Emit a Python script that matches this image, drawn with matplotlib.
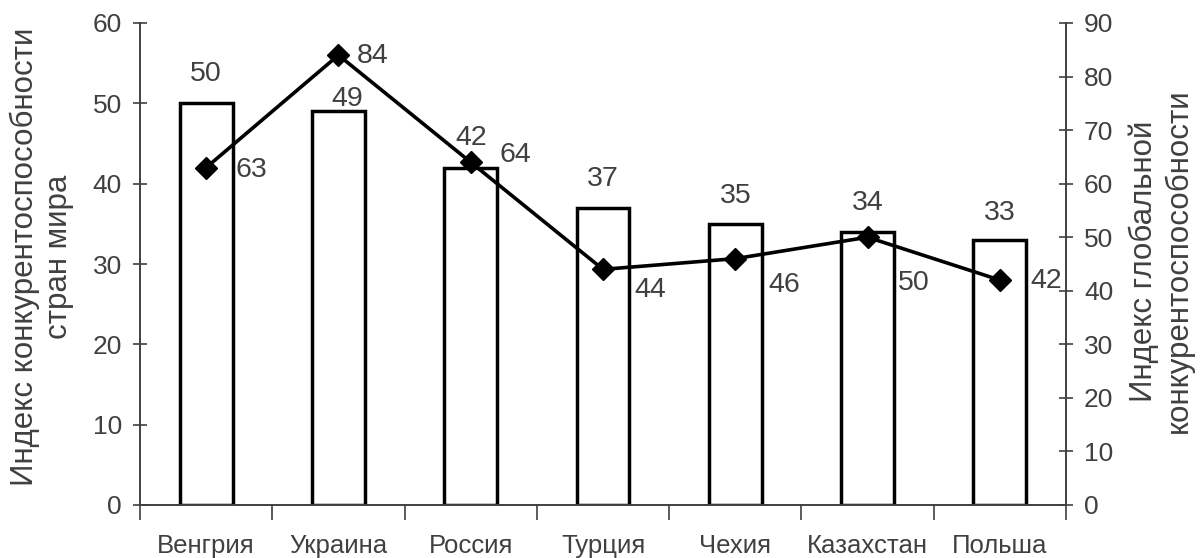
import matplotlib
matplotlib.use('Agg')
import matplotlib.pyplot as plt
import numpy as np

plt.rcParams['font.family'] = ['Liberation Sans', 'DejaVu Sans']

countries = ['Венгрия', 'Украина', 'Россия', 'Турция', 'Чехия', 'Казахстан', 'Польша']
world_index = [50, 49, 42, 37, 35, 34, 33]
global_index = [63, 84, 64, 44, 46, 50, 42]

# label nudges (pixels) to sit them where the original puts them
bar_lab_off = [(0, 29), (9, 12), (0, 30), (0, 29), (0, 28), (0, 29), (0, 27)]
line_lab_off = [(45, -2), (34, -1), (45, 7), (47, -21), (49, -26), (46, -46), (46, -1)]

txt = '#404040'
fig = plt.figure(figsize=(12, 5.58), dpi=100)
ax = fig.add_axes([140/1200, 53/558, 926/1200, 482/558])
ax2 = ax.twinx()

x = np.arange(len(countries)) + 0.5
ax.bar(x, world_index, width=0.4, facecolor='white', edgecolor='black', linewidth=2.5, zorder=2)
ax.set_xlim(0, len(countries))
ax.set_ylim(0, 60)
ax.set_yticks(range(0, 61, 10))
ax2.set_ylim(0, 90)
ax2.set_yticks(range(0, 91, 10))

ax.set_xticks(range(len(countries) + 1))
ax.set_xticklabels([])
ax.set_xticks(x, minor=True)
ax.set_xticklabels(countries, minor=True)
ax.tick_params(axis='x', which='major', direction='out', length=11, width=1.2, color=txt)
ax.tick_params(axis='x', which='minor', length=0, pad=21, labelsize=18.5, labelcolor=txt)
ax.tick_params(axis='y', direction='inout', length=10, width=1.2, color=txt, pad=8,
               labelsize=19, labelcolor=txt)
ax2.tick_params(axis='y', direction='inout', length=10, width=1.2, color=txt, pad=8,
                labelsize=19, labelcolor=txt)

for a in (ax, ax2):
    a.spines['top'].set_visible(False)
    for s in ('left', 'right', 'bottom'):
        a.spines[s].set_color(txt)
        a.spines[s].set_linewidth(1.2)

ax2.plot(x, global_index, color='black', linewidth=2.6, marker='D', markersize=11, zorder=3)
ax.set_zorder(ax2.get_zorder() - 1)
ax.patch.set_visible(False)
ax2.patch.set_visible(False)

for i in range(len(countries)):
    ax.annotate(str(world_index[i]), (x[i], world_index[i]), xytext=bar_lab_off[i],
                textcoords='offset pixels', ha='center', va='center', fontsize=20.5, color=txt)
    ax2.annotate(str(global_index[i]), (x[i], global_index[i]), xytext=line_lab_off[i],
                 textcoords='offset pixels', ha='center', va='center', fontsize=20.5, color=txt)

fig.text(0.035, 0.54, 'Индекс конкурентоспособности\nстран мира', rotation=90,
         ha='center', va='center', fontsize=22.5, color=txt, multialignment='center')
fig.text(0.968, 0.532, 'Индекс глобальной\nконкурентоспособности', rotation=90,
         ha='center', va='center', fontsize=22.5, color=txt, multialignment='center')

fig.savefig('out.png', dpi=100)
